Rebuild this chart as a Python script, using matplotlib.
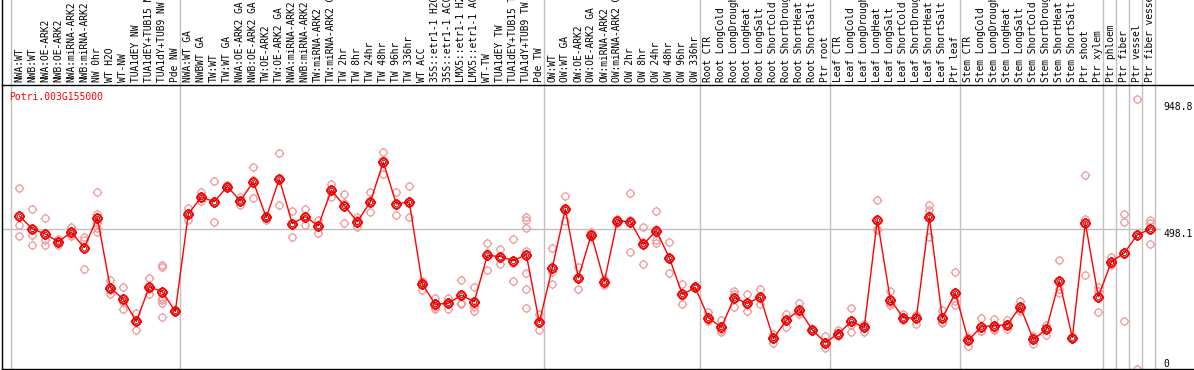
import numpy as np
import matplotlib.pyplot as plt
from matplotlib.path import Path
from matplotlib.transforms import blended_transform_factory

gene = "Potri.003G155000"

labels = [
    # NW
    "NWA:WT", "NWB:WT", "NWA:OE-ARK2", "NWB:OE-ARK2", "NWA:miRNA-ARK2",
    "NWB:miRNA-ARK2", "NW 0hr", "WT H2O", "WT-NW", "TUA1dEY NW",
    "TUA1dEY+TUB15 NW", "TUA1dY+TUB9 NW", "Pde NW",
    # TW
    "NWA:WT GA", "NWBWT GA", "TW:WT", "TW:WT GA", "NWA:OE-ARK2 GA",
    "NWB:OE-ARK2 GA", "TW:OE-ARK2", "TW:OE-ARK2 GA", "NWA:miRNA-ARK2 GA",
    "NWB:miRNA-ARK2 GA", "TW:miRNA-ARK2", "TW:miRNA-ARK2 GA", "TW 2hr",
    "TW 8hr", "TW 24hr", "TW 48hr", "TW 96hr", "TW 336hr", "WT ACC",
    "35S::etr1-1 H2O", "35S::etr1-1 ACC", "LMX5::etr1-1 H2O",
    "LMX5::etr1-1 ACC", "WT-TW", "TUA1dEY TW", "TUA1dEY+TUB15 TW",
    "TUA1dY+TUB9 TW", "Pde TW",
    # OW
    "OW:WT", "OW:WT GA", "OW:OE-ARK2", "OW:OE-ARK2 GA", "OW:miRNA-ARK2",
    "OW:miRNA-ARK2 GA", "OW 2hr", "OW 8hr", "OW 24hr", "OW 48hr", "OW 96hr",
    "OW 336hr",
    # root
    "Root CTR", "Root LongCold", "Root LongDrought", "Root LongHeat",
    "Root LongSalt", "Root ShortCold", "Root ShortDrought", "Root ShortHeat",
    "Root ShortSalt", "Ptr root",
    # leaf
    "Leaf CTR", "Leaf LongCold", "Leaf LongDrought", "Leaf LongHeat",
    "Leaf LongSalt", "Leaf ShortCold", "Leaf ShortDrought", "Leaf ShortHeat",
    "Leaf ShortSalt", "Ptr leaf",
    # stem
    "Stem CTR", "Stem LongCold", "Stem LongDrought", "Stem LongHeat",
    "Stem LongSalt", "Stem ShortCold", "Stem ShortDrought", "Stem ShortHeat",
    "Stem ShortSalt", "Ptr shoot", "Ptr xylem",
    "Ptr phloem", "Ptr fiber", "Ptr vessel", "Ptr fiber vessel",
]
group_sizes = [13, 28, 12, 10, 10, 11, 1, 1, 1, 1]

means = [
    543, 498, 479, 452, 485, 431, 537, 288, 247, 168, 291, 274, 204,
    551, 610, 594, 648, 597, 665, 538, 675, 516, 541, 508, 635, 580, 523,
    593, 735, 586, 593, 301, 229, 233, 261, 239, 403, 399, 384, 406, 165,
    359, 568,
    323, 477, 310, 526, 523, 442, 491, 395, 264, 289, 182, 147,
    253, 232, 255, 108, 172, 210, 138, 93, 125, 168,
    147, 530, 245, 182, 179, 540, 180, 270, 101, 150,
    153, 157, 220, 104, 140, 313, 111, 519, 256, 380, 412, 476, 497,
]

replicates = [
    [642, 511, 472], [569, 474, 441], [536, 458, 441], [460, 441, 456],
    [505, 472, 478], [470, 459, 355], [629, 552, 519, 500, 485],
    [317, 280, 267], [292, 237, 213], [198, 136, 170], [324, 267, 282],
    [370, 361, 253, 243, 232, 184], [210, 200, 204],
    [570, 529, 554], [627, 608, 595], [667, 523, 592], [648, 652, 645],
    [612, 582, 597], [717, 607, 671], [544, 540, 529], [767, 583, 675],
    [561, 470, 517], [569, 511, 543], [530, 483, 511], [658, 612, 635],
    [622, 591, 518], [538, 503, 528], [627, 558, 594], [771, 693, 741],
    [627, 547, 584], [649, 540, 590], [310, 281, 312, 301], [253, 213, 221],
    [253, 214, 232], [317, 231, 235], [292, 219, 207], [447, 352, 410],
    [427, 373, 397], [463, 375, 313],
    [538, 529, 501, 420, 341, 284, 217], [193, 139, 163], [430, 343, 302],
    [614, 526, 564],
    [361, 285, 323], [488, 467, 476], [320, 298, 312], [532, 517, 529],
    [626, 415, 528], [504, 373, 449], [562, 459, 447, 496], [451, 339, 395],
    [302, 231, 259], [289, 290, 288], [203, 172, 171], [175, 129, 137],
    [276, 219, 264], [264, 207, 225], [284, 231, 250], [125, 93, 106],
    [193, 148, 175], [233, 196, 201], [140, 137, 137], [115, 74, 90],
    [139, 119, 117], [217, 132, 155],
    [160, 132, 149], [601, 497, 492], [275, 225, 235], [196, 172, 178],
    [190, 160, 187], [583, 564, 546, 467], [210, 164, 166], [345, 225, 240],
    [110, 113, 80], [182, 134, 134],
    [178, 139, 142], [172, 141, 158], [240, 207, 213], [116, 89, 107],
    [146, 119, 155], [387, 282, 269], [111, 111, 111], [688, 532, 334],
    [290, 203, 275], [396, 370, 374], [550, 523, 168], [960, 0],
    [530, 519, 444],
]

y_marks = [948.8, 498.1, 0]

# circle with four little stubs, like the original renderer
circ = Path.unit_circle()
stubs = [Path([(a, b), (1.35 * a, 1.35 * b)], [Path.MOVETO, Path.LINETO])
         for a, b in [(1, 0), (-1, 0), (0, 1), (0, -1)]]
ring = Path.make_compound_path(circ, *stubs)

fig = plt.figure(figsize=(11.94, 3.70), dpi=100)
ax = fig.add_axes([2 / 1194, 0.7 / 370, 1192 / 1194, 284.3 / 370])
ax.set_xlim(-1.331, 90.36)
ax.set_ylim(-2, 1009)
ax.set_xticks([])
ax.set_yticks([])
top = 1 + 85 / 284.3

trans = blended_transform_factory(ax.transData, ax.transAxes)
grid = "#c0c0c0"

bounds = np.cumsum([0] + group_sizes) - 0.65
for b in bounds:
    ax.plot([b, b], [0, top], transform=trans, color=grid, lw=1,
            clip_on=False, zorder=1)
ax.plot([-1.331, 87.75], [498.1, 498.1], color=grid, lw=1, zorder=1)

x = np.arange(len(labels))
for i, reps in enumerate(replicates):
    ax.plot([i] * len(reps), reps, ls="none", marker=ring, ms=6.8,
            mec="#f09a9a", mfc="none", mew=0.9, zorder=2, clip_on=False)

ax.plot(x, means, color="red", lw=1, zorder=3)
ax.plot(x, means, ls="none", marker=ring, ms=7.8, mec="red", mfc="none",
        mew=1.4, zorder=4)
ax.plot(x, means, ls="none", marker="o", ms=3.2, mec="#700000", mfc="none",
        mew=0.5, zorder=5)

for i, lab in enumerate(labels):
    ax.text(i, 1 + 3.5 / 284.3, lab, transform=trans, rotation=90,
            ha="center", va="bottom", fontsize=6.9,
            family="DejaVu Sans Mono", clip_on=False)

ax.text(0.006, 0.975, gene, transform=ax.transAxes, color="red",
        fontsize=7, family="DejaVu Sans Mono", ha="left", va="top")

for v in y_marks:
    ax.text(87.98, v, f"{v:g}" if v == 0 else f"{v:.1f}", fontsize=7,
            family="DejaVu Sans Mono", ha="left",
            va="bottom" if v == 0 else "top")

for s in ["left", "top", "bottom"]:
    ax.spines[s].set_color("black")
    ax.spines[s].set_linewidth(1)
ax.spines["right"].set_visible(False)
ax.plot([-1.331, -1.331], [1, top], transform=trans, color="black", lw=1,
        clip_on=False)

fig.savefig("out.png", dpi=100)
